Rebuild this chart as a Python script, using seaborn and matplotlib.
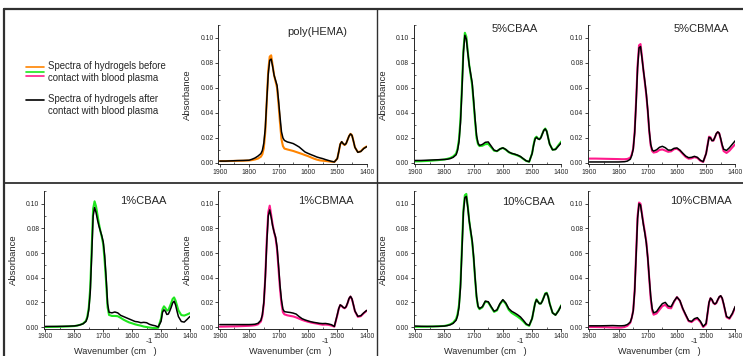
import matplotlib
matplotlib.use('Agg')
import matplotlib.pyplot as plt
from matplotlib.lines import Line2D
from matplotlib.ticker import MultipleLocator, FormatStrFormatter
import seaborn as sns

sns.set_style('ticks')
plt.rcParams['font.family'] = ['Liberation Sans', 'DejaVu Sans']

# wavenumber grid (cm-1), shared by all spectra
wavenumber = [1900, 1880, 1860, 1840, 1820, 1800,
              1790, 1780, 1770, 1760,
              1755, 1750, 1745, 1740, 1735, 1730, 1725, 1720, 1715, 1710, 1705, 1700, 1695, 1690, 1685, 1680,
              1670, 1660, 1650, 1640, 1630, 1620, 1610, 1600,
              1590, 1580, 1570, 1560, 1550, 1540, 1530, 1520, 1510,
              1500, 1495, 1490, 1485, 1480, 1475, 1470, 1465, 1460, 1455, 1450, 1445, 1440,
              1430, 1420, 1410, 1400]

# poly(HEMA)
hema_before = [0.0015, 0.0015, 0.0016, 0.0017, 0.0018, 0.0020,
               0.0023, 0.0028, 0.0035, 0.0050,
               0.0070, 0.0120, 0.0250, 0.0500, 0.0740, 0.0850, 0.0860, 0.0780, 0.0700, 0.0650, 0.0600, 0.0470, 0.0320, 0.0190, 0.0135, 0.0115,
               0.0108, 0.0102, 0.0096, 0.0088, 0.0080, 0.0072, 0.0063, 0.0055,
               0.0045, 0.0035, 0.0027, 0.0021, 0.0018, 0.0016, 0.0013, 0.0010, 0.0008,
               0.0035, 0.0090, 0.0150, 0.0168, 0.0152, 0.0143, 0.0155, 0.0185, 0.0215, 0.0233, 0.0222, 0.0175, 0.0125,
               0.0087, 0.0093, 0.0118, 0.0132]
hema_after = [0.0015, 0.0015, 0.0017, 0.0019, 0.0020, 0.0022,
              0.0030, 0.0040, 0.0055, 0.0075,
              0.0100, 0.0160, 0.0280, 0.0500, 0.0710, 0.0820, 0.0830, 0.0770, 0.0700, 0.0660, 0.0620, 0.0500, 0.0370, 0.0250, 0.0200, 0.0180,
              0.0168, 0.0162, 0.0155, 0.0142, 0.0128, 0.0108, 0.0088, 0.0077,
              0.0067, 0.0058, 0.0048, 0.0041, 0.0035, 0.0027, 0.0020, 0.0013, 0.0008,
              0.0035, 0.0090, 0.0150, 0.0170, 0.0155, 0.0145, 0.0155, 0.0185, 0.0215, 0.0232, 0.0220, 0.0175, 0.0125,
              0.0085, 0.0092, 0.0115, 0.0130]

# 5%CBAA
cbaa5_before = [0.0013, 0.0014, 0.0016, 0.0019, 0.0023, 0.0028,
                0.0033, 0.0040, 0.0052, 0.0075,
                0.0115, 0.0190, 0.0350, 0.0610, 0.0900, 0.1040, 0.1010, 0.0890, 0.0780, 0.0700, 0.0620, 0.0480, 0.0330, 0.0200, 0.0150, 0.0135,
                0.0138, 0.0150, 0.0152, 0.0125, 0.0098, 0.0094, 0.0111, 0.0120,
                0.0106, 0.0086, 0.0075, 0.0068, 0.0060, 0.0049, 0.0032, 0.0016, 0.0010,
                0.0077, 0.0145, 0.0198, 0.0210, 0.0196, 0.0190, 0.0203, 0.0233, 0.0262, 0.0275, 0.0255, 0.0202, 0.0152,
                0.0106, 0.0110, 0.0142, 0.0172]
cbaa5_after = [0.0020, 0.0020, 0.0022, 0.0024, 0.0026, 0.0028,
               0.0030, 0.0035, 0.0045, 0.0065,
               0.0100, 0.0170, 0.0320, 0.0580, 0.0880, 0.1020, 0.0990, 0.0880, 0.0780, 0.0710, 0.0640, 0.0500, 0.0350, 0.0220, 0.0160, 0.0140,
               0.0148, 0.0165, 0.0168, 0.0135, 0.0102, 0.0095, 0.0112, 0.0121,
               0.0108, 0.0088, 0.0077, 0.0071, 0.0063, 0.0052, 0.0034, 0.0017, 0.0010,
               0.0075, 0.0140, 0.0190, 0.0205, 0.0193, 0.0188, 0.0202, 0.0232, 0.0260, 0.0272, 0.0252, 0.0200, 0.0150,
               0.0105, 0.0108, 0.0135, 0.0162]

# 5%CBMAA
cbmaa5_before = [0.0035, 0.0035, 0.0034, 0.0033, 0.0032, 0.0031,
                 0.0030, 0.0030, 0.0032, 0.0042,
                 0.0068, 0.0115, 0.0250, 0.0500, 0.0780, 0.0940, 0.0950, 0.0850, 0.0740, 0.0640, 0.0540, 0.0410, 0.0250, 0.0140, 0.0095, 0.0083,
                 0.0088, 0.0104, 0.0108, 0.0099, 0.0089, 0.0093, 0.0110, 0.0114,
                 0.0098, 0.0072, 0.0048, 0.0034, 0.0037, 0.0047, 0.0040, 0.0018, 0.0008,
                 0.0075, 0.0145, 0.0210, 0.0205, 0.0180, 0.0178, 0.0203, 0.0233, 0.0247, 0.0236, 0.0190, 0.0138, 0.0095,
                 0.0080, 0.0098, 0.0125, 0.0150]
cbmaa5_after = [0.0008, 0.0008, 0.0008, 0.0008, 0.0008, 0.0008,
                0.0009, 0.0010, 0.0015, 0.0030,
                0.0060, 0.0110, 0.0240, 0.0480, 0.0760, 0.0920, 0.0930, 0.0840, 0.0740, 0.0650, 0.0550, 0.0420, 0.0260, 0.0150, 0.0105, 0.0095,
                0.0105, 0.0125, 0.0133, 0.0122, 0.0103, 0.0103, 0.0117, 0.0120,
                0.0103, 0.0078, 0.0055, 0.0042, 0.0045, 0.0053, 0.0045, 0.0022, 0.0010,
                0.0075, 0.0140, 0.0205, 0.0200, 0.0178, 0.0180, 0.0205, 0.0235, 0.0248, 0.0238, 0.0195, 0.0145, 0.0110,
                0.0100, 0.0122, 0.0150, 0.0178]

# 1%CBAA
cbaa1_before = [0.0000, 0.0001, 0.0002, 0.0003, 0.0005, 0.0008,
                0.0012, 0.0018, 0.0028, 0.0050,
                0.0085, 0.0160, 0.0320, 0.0640, 0.0960, 0.1020, 0.0980, 0.0910, 0.0840, 0.0780, 0.0730, 0.0670, 0.0530, 0.0360, 0.0160, 0.0098,
                0.0090, 0.0090, 0.0088, 0.0075, 0.0060, 0.0048, 0.0037, 0.0030,
                0.0022, 0.0016, 0.0011, 0.0004, 0.0000, -0.0004, -0.0007, -0.0008, -0.0006,
                0.0070, 0.0145, 0.0168, 0.0154, 0.0133, 0.0138, 0.0165, 0.0195, 0.0228, 0.0240, 0.0215, 0.0175, 0.0135,
                0.0097, 0.0093, 0.0102, 0.0113]
cbaa1_after = [0.0005, 0.0005, 0.0005, 0.0006, 0.0007, 0.0009,
               0.0012, 0.0018, 0.0026, 0.0045,
               0.0075, 0.0140, 0.0280, 0.0580, 0.0900, 0.0970, 0.0930, 0.0870, 0.0820, 0.0780, 0.0740, 0.0690, 0.0580, 0.0400, 0.0190, 0.0120,
               0.0115, 0.0122, 0.0115, 0.0095, 0.0085, 0.0075, 0.0065, 0.0055,
               0.0045, 0.0042, 0.0035, 0.0038, 0.0035, 0.0022, 0.0015, 0.0010, 0.0000,
               0.0046, 0.0120, 0.0140, 0.0127, 0.0102, 0.0105, 0.0130, 0.0160, 0.0195, 0.0210, 0.0180, 0.0130, 0.0085,
               0.0045, 0.0040, 0.0062, 0.0086]

# 1%CBMAA
cbmaa1_before = [0.0003, 0.0004, 0.0005, 0.0006, 0.0008, 0.0010,
                 0.0012, 0.0015, 0.0022, 0.0045,
                 0.0090, 0.0190, 0.0410, 0.0710, 0.0930, 0.0985, 0.0910, 0.0830, 0.0770, 0.0720, 0.0630, 0.0470, 0.0310, 0.0190, 0.0120, 0.0103,
                 0.0095, 0.0090, 0.0086, 0.0078, 0.0068, 0.0058, 0.0050, 0.0043,
                 0.0037, 0.0032, 0.0028, 0.0023, 0.0019, 0.0020, 0.0018, 0.0012, 0.0003,
                 0.0095, 0.0148, 0.0178, 0.0170, 0.0158, 0.0152, 0.0163, 0.0193, 0.0230, 0.0247, 0.0226, 0.0178, 0.0128,
                 0.0083, 0.0088, 0.0112, 0.0132]
cbmaa1_after = [0.0020, 0.0020, 0.0020, 0.0020, 0.0020, 0.0020,
                0.0021, 0.0023, 0.0030, 0.0055,
                0.0100, 0.0200, 0.0400, 0.0680, 0.0900, 0.0950, 0.0890, 0.0820, 0.0770, 0.0730, 0.0650, 0.0500, 0.0340, 0.0220, 0.0145, 0.0125,
                0.0121, 0.0118, 0.0113, 0.0105, 0.0085, 0.0068, 0.0058, 0.0050,
                0.0043, 0.0038, 0.0034, 0.0030, 0.0028, 0.0029, 0.0025, 0.0019, 0.0005,
                0.0100, 0.0150, 0.0180, 0.0172, 0.0160, 0.0154, 0.0165, 0.0195, 0.0232, 0.0249, 0.0228, 0.0180, 0.0130,
                0.0087, 0.0092, 0.0115, 0.0135]

# 10%CBAA
cbaa10_before = [0.0002, 0.0002, 0.0003, 0.0004, 0.0006, 0.0009,
                 0.0014, 0.0022, 0.0036, 0.0065,
                 0.0105, 0.0180, 0.0350, 0.0650, 0.0950, 0.1070, 0.1080, 0.0980, 0.0860, 0.0770, 0.0690, 0.0560, 0.0390, 0.0240, 0.0165, 0.0145,
                 0.0160, 0.0207, 0.0200, 0.0160, 0.0123, 0.0135, 0.0185, 0.0217,
                 0.0188, 0.0140, 0.0115, 0.0100, 0.0085, 0.0067, 0.0045, 0.0020, 0.0010,
                 0.0068, 0.0130, 0.0192, 0.0225, 0.0207, 0.0190, 0.0190, 0.0212, 0.0243, 0.0273, 0.0278, 0.0247, 0.0192,
                 0.0115, 0.0098, 0.0133, 0.0178]
cbaa10_after = [0.0008, 0.0006, 0.0005, 0.0005, 0.0006, 0.0008,
                0.0012, 0.0018, 0.0030, 0.0055,
                0.0090, 0.0160, 0.0320, 0.0620, 0.0930, 0.1050, 0.1060, 0.0970, 0.0860, 0.0780, 0.0700, 0.0570, 0.0400, 0.0250, 0.0170, 0.0150,
                0.0165, 0.0210, 0.0205, 0.0165, 0.0128, 0.0140, 0.0190, 0.0222,
                0.0195, 0.0150, 0.0128, 0.0115, 0.0100, 0.0082, 0.0055, 0.0025, 0.0013,
                0.0070, 0.0130, 0.0190, 0.0222, 0.0205, 0.0190, 0.0190, 0.0210, 0.0240, 0.0270, 0.0275, 0.0245, 0.0190,
                0.0115, 0.0097, 0.0130, 0.0176]

# 10%CBMAA
cbmaa10_before = [0.0000, 0.0000, -0.0001, -0.0002, -0.0004, -0.0005,
                  -0.0004, 0.0000, 0.0010, 0.0035,
                  0.0075, 0.0135, 0.0300, 0.0600, 0.0900, 0.1010, 0.1000, 0.0920, 0.0840, 0.0770, 0.0690, 0.0560, 0.0390, 0.0230, 0.0135, 0.0100,
                  0.0110, 0.0140, 0.0170, 0.0180, 0.0155, 0.0152, 0.0205, 0.0243,
                  0.0213, 0.0147, 0.0096, 0.0048, 0.0040, 0.0060, 0.0067, 0.0042, 0.0000,
                  0.0022, 0.0110, 0.0198, 0.0234, 0.0221, 0.0195, 0.0185, 0.0194, 0.0220, 0.0243, 0.0252, 0.0232, 0.0186,
                  0.0080, 0.0067, 0.0105, 0.0162]
cbmaa10_after = [0.0010, 0.0010, 0.0010, 0.0011, 0.0012, 0.0010,
                 0.0010, 0.0012, 0.0020, 0.0040,
                 0.0075, 0.0130, 0.0290, 0.0580, 0.0880, 0.1000, 0.0990, 0.0910, 0.0830, 0.0760, 0.0680, 0.0560, 0.0400, 0.0250, 0.0150, 0.0115,
                 0.0125, 0.0160, 0.0190, 0.0200, 0.0170, 0.0165, 0.0210, 0.0243,
                 0.0215, 0.0150, 0.0100, 0.0052, 0.0045, 0.0068, 0.0076, 0.0048, 0.0005,
                 0.0030, 0.0115, 0.0200, 0.0235, 0.0222, 0.0196, 0.0187, 0.0196, 0.0222, 0.0245, 0.0254, 0.0235, 0.0190,
                 0.0085, 0.0072, 0.0110, 0.0168]

ORANGE = '#ff8400'
GREEN = '#1ee61e'
PINK = '#ff1a8c'

# column left/width and row bottom/height in figure fractions
cols = {'A': (0.0592, 0.1965), 'B': (0.2938, 0.1997), 'C': (0.5568, 0.1987), 'D': (0.7914, 0.1982)}
rows = {'top': (0.538, 0.391), 'bot': (0.0772, 0.385)}

# name, before, after, colour, col, row, ylabel?, title x, title y
panels = [
    ('poly(HEMA)', hema_before, hema_after, ORANGE, 'B', 'top', True, 0.668, 0.951),
    ('5%CBAA', cbaa5_before, cbaa5_after, GREEN, 'C', 'top', True, 0.682, 0.970),
    ('5%CBMAA', cbmaa5_before, cbmaa5_after, PINK, 'D', 'top', False, 0.767, 0.970),
    ('1%CBAA', cbaa1_before, cbaa1_after, GREEN, 'A', 'bot', True, 0.680, 0.928),
    ('1%CBMAA', cbmaa1_before, cbmaa1_after, PINK, 'B', 'bot', True, 0.726, 0.928),
    ('10%CBAA', cbaa10_before, cbaa10_after, GREEN, 'C', 'bot', True, 0.774, 0.923),
    ('10%CBMAA', cbmaa10_before, cbmaa10_after, PINK, 'D', 'bot', False, 0.764, 0.928),
]

fig = plt.figure(figsize=(7.43, 3.56), dpi=100)

for name, before, after, col, c, r, ylab, tx, ty in panels:
    left, width = cols[c]
    bottom, height = rows[r]
    ax = fig.add_axes([left, bottom, width, height])
    sns.lineplot(x=wavenumber, y=before, ax=ax, color=col, lw=1.5)
    sns.lineplot(x=wavenumber, y=after, ax=ax, color='black', lw=1.1)
    ax.set_xlim(1905, 1400)
    ax.set_ylim(-0.0012, 0.110)
    ax.xaxis.set_major_locator(MultipleLocator(100))
    ax.xaxis.set_minor_locator(MultipleLocator(50))
    ax.yaxis.set_major_locator(MultipleLocator(0.02))
    ax.yaxis.set_minor_locator(MultipleLocator(0.01))
    ax.yaxis.set_major_formatter(FormatStrFormatter('%.2f'))
    ax.tick_params(which='major', direction='out', length=2.2, width=0.6, labelsize=4.9, pad=1.2)
    ax.tick_params(which='minor', direction='in', length=1.6, width=0.5)
    for s in ['top', 'right']:
        ax.spines[s].set_visible(False)
    for s in ['left', 'bottom']:
        ax.spines[s].set_linewidth(0.7)
    ax.text(tx, ty, name, transform=ax.transAxes, ha='center', va='center', fontsize=8)
    if ylab:
        ax.set_ylabel('Absorbance', fontsize=6.8)
        ax.yaxis.set_label_coords(-0.175, 0.5)
    else:
        ax.set_ylabel('')
    if r == 'bot':
        ax.text(0.487, -0.168, 'Wavenumber (cm   )', transform=ax.transAxes,
                ha='center', va='center', fontsize=6.6)
        ax.text(0.722, -0.095, '-1', transform=ax.transAxes,
                ha='center', va='center', fontsize=6.0)

# panel frame
def fline(x0, y0, x1, y1, lw):
    fig.add_artist(Line2D([x0 / 743, x1 / 743], [1 - y0 / 356, 1 - y1 / 356],
                          transform=fig.transFigure, color='#303030', lw=lw))

fline(4, 9, 743, 9, 1.6)
fline(4, 9, 4, 356, 1.6)
fline(377, 9, 377, 356, 1.0)
fline(4, 183, 743, 183, 1.3)

# legend
for yy, cc in [(66.7, ORANGE), (71.7, GREEN), (76.0, PINK), (100.0, 'black')]:
    fig.add_artist(Line2D([26 / 743, 44 / 743], [1 - yy / 356, 1 - yy / 356],
                          transform=fig.transFigure, color=cc, lw=1.2))
for yy, txt in [(66.0, 'Spectra of hydrogels before'), (77.7, 'contact with blood plasma'),
                (99.5, 'Spectra of hydrogels after'), (111.5, 'contact with blood plasma')]:
    fig.text(47.7 / 743, 1 - yy / 356, txt, ha='left', va='center', fontsize=6.9)

fig.savefig('out.png', dpi=100)
